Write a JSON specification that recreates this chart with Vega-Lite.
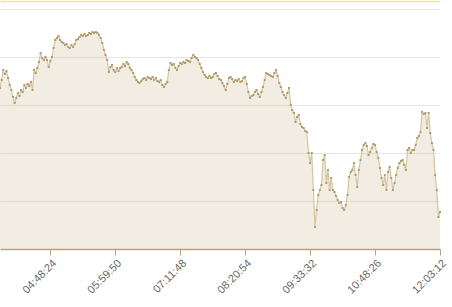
{
  "$schema": "https://vega.github.io/schema/vega-lite/v6.json",
  "width": 440,
  "height": 240,
  "autosize": {"type": "none"},
  "padding": {"top": 9, "left": 0, "right": 12, "bottom": 58},
  "config": {"view": {"stroke": null}, "font": "Liberation Sans"},
  "data": {"values": [
{"i":0,"v":161},{"i":1,"v":169},{"i":2,"v":179},{"i":3,"v":175},{"i":4,"v":178},{"i":5,"v":171},{"i":6,"v":164},{"i":7,"v":159},{"i":8,"v":152},{"i":9,"v":146},
{"i":10,"v":151},{"i":11,"v":156},{"i":12,"v":153},{"i":13,"v":159},{"i":14,"v":157},{"i":15,"v":164},{"i":16,"v":161},{"i":17,"v":165},{"i":18,"v":163},{"i":19,"v":167},
{"i":20,"v":159},{"i":21,"v":179},{"i":22,"v":176},{"i":23,"v":181},{"i":24,"v":187},{"i":25,"v":196},{"i":26,"v":191},{"i":27,"v":189},{"i":28,"v":192},{"i":29,"v":189},
{"i":30,"v":182},{"i":31,"v":188},{"i":32,"v":192},{"i":33,"v":201},{"i":34,"v":209},{"i":35,"v":211},{"i":36,"v":213},{"i":37,"v":209},{"i":38,"v":207},{"i":39,"v":206},
{"i":40,"v":204},{"i":41,"v":205},{"i":42,"v":202},{"i":43,"v":201},{"i":44,"v":204},{"i":45,"v":202},{"i":46,"v":205},{"i":47,"v":209},{"i":48,"v":210},{"i":49,"v":212},
{"i":50,"v":214},{"i":51,"v":213},{"i":52,"v":215},{"i":53,"v":213},{"i":54,"v":214},{"i":55,"v":216},{"i":56,"v":215},{"i":57,"v":217},{"i":58,"v":216},{"i":59,"v":217},
{"i":60,"v":216},{"i":61,"v":214},{"i":62,"v":211},{"i":63,"v":206},{"i":64,"v":199},{"i":65,"v":194},{"i":66,"v":189},{"i":67,"v":177},{"i":68,"v":182},{"i":69,"v":184},
{"i":70,"v":179},{"i":71,"v":177},{"i":72,"v":181},{"i":73,"v":178},{"i":74,"v":181},{"i":75,"v":182},{"i":76,"v":185},{"i":77,"v":183},{"i":78,"v":187},{"i":79,"v":185},
{"i":80,"v":181},{"i":81,"v":179},{"i":82,"v":176},{"i":83,"v":172},{"i":84,"v":169},{"i":85,"v":167},{"i":86,"v":166},{"i":87,"v":168},{"i":88,"v":170},{"i":89,"v":171},
{"i":90,"v":169},{"i":91,"v":172},{"i":92,"v":171},{"i":93,"v":170},{"i":94,"v":172},{"i":95,"v":169},{"i":96,"v":171},{"i":97,"v":168},{"i":98,"v":167},{"i":99,"v":169},
{"i":100,"v":164},{"i":101,"v":162},{"i":102,"v":165},{"i":103,"v":167},{"i":104,"v":179},{"i":105,"v":186},{"i":106,"v":184},{"i":107,"v":185},{"i":108,"v":181},{"i":109,"v":179},
{"i":110,"v":183},{"i":111,"v":186},{"i":112,"v":185},{"i":113,"v":187},{"i":114,"v":186},{"i":115,"v":189},{"i":116,"v":188},{"i":117,"v":187},{"i":118,"v":191},{"i":119,"v":194},
{"i":120,"v":192},{"i":121,"v":191},{"i":122,"v":189},{"i":123,"v":185},{"i":124,"v":181},{"i":125,"v":177},{"i":126,"v":174},{"i":127,"v":172},{"i":128,"v":171},{"i":129,"v":173},
{"i":130,"v":171},{"i":131,"v":172},{"i":132,"v":175},{"i":133,"v":176},{"i":134,"v":173},{"i":135,"v":170},{"i":136,"v":169},{"i":137,"v":166},{"i":138,"v":163},{"i":139,"v":159},
{"i":140,"v":165},{"i":141,"v":171},{"i":142,"v":172},{"i":143,"v":170},{"i":144,"v":167},{"i":145,"v":169},{"i":146,"v":168},{"i":147,"v":170},{"i":148,"v":167},{"i":149,"v":168},
{"i":150,"v":171},{"i":151,"v":172},{"i":152,"v":165},{"i":153,"v":157},{"i":154,"v":151},{"i":155,"v":153},{"i":156,"v":154},{"i":157,"v":157},{"i":158,"v":159},{"i":159,"v":155},
{"i":160,"v":152},{"i":161,"v":157},{"i":162,"v":162},{"i":163,"v":169},{"i":164,"v":176},{"i":165,"v":175},{"i":166,"v":174},{"i":167,"v":173},{"i":168,"v":172},{"i":169,"v":176},
{"i":170,"v":179},{"i":171,"v":173},{"i":172,"v":166},{"i":173,"v":162},{"i":174,"v":157},{"i":175,"v":154},{"i":176,"v":151},{"i":177,"v":156},{"i":178,"v":161},{"i":179,"v":144},
{"i":180,"v":139},{"i":181,"v":136},{"i":182,"v":127},{"i":183,"v":132},{"i":184,"v":134},{"i":185,"v":125},{"i":186,"v":122},{"i":187,"v":121},{"i":188,"v":118},{"i":189,"v":117},
{"i":190,"v":96},{"i":191,"v":86},{"i":192,"v":96},{"i":193,"v":59},{"i":194,"v":22},{"i":195,"v":39},{"i":196,"v":54},{"i":197,"v":59},{"i":198,"v":64},{"i":199,"v":89},
{"i":200,"v":94},{"i":201,"v":66},{"i":202,"v":79},{"i":203,"v":59},{"i":204,"v":71},{"i":205,"v":59},{"i":206,"v":57},{"i":207,"v":53},{"i":208,"v":49},{"i":209,"v":46},
{"i":210,"v":47},{"i":211,"v":41},{"i":212,"v":39},{"i":213,"v":44},{"i":214,"v":54},{"i":215,"v":72},{"i":216,"v":77},{"i":217,"v":79},{"i":218,"v":86},{"i":219,"v":74},
{"i":220,"v":62},{"i":221,"v":79},{"i":222,"v":89},{"i":223,"v":99},{"i":224,"v":104},{"i":225,"v":106},{"i":226,"v":103},{"i":227,"v":94},{"i":228,"v":97},{"i":229,"v":101},
{"i":230,"v":105},{"i":231,"v":104},{"i":232,"v":97},{"i":233,"v":91},{"i":234,"v":81},{"i":235,"v":71},{"i":236,"v":64},{"i":237,"v":74},{"i":238,"v":59},{"i":239,"v":77},
{"i":240,"v":82},{"i":241,"v":71},{"i":242,"v":59},{"i":243,"v":66},{"i":244,"v":74},{"i":245,"v":81},{"i":246,"v":86},{"i":247,"v":88},{"i":248,"v":89},{"i":249,"v":84},
{"i":250,"v":79},{"i":251,"v":99},{"i":252,"v":101},{"i":253,"v":96},{"i":254,"v":99},{"i":255,"v":99},{"i":256,"v":104},{"i":257,"v":111},{"i":258,"v":113},{"i":259,"v":117},
{"i":260,"v":137},{"i":261,"v":135},{"i":262,"v":136},{"i":263,"v":121},{"i":264,"v":136},{"i":265,"v":116},{"i":266,"v":106},{"i":267,"v":99},{"i":268,"v":74},{"i":269,"v":59},
{"i":270,"v":32},{"i":271,"v":37}
  ]},
  "encoding": {
    "x": {"field": "i", "type": "quantitative", "scale": {"domain": [0, 271], "nice": false, "zero": false}},
    "y": {"field": "v", "type": "quantitative", "scale": {"domain": [0, 240], "nice": false}}
  },
  "resolve": {"axis": {"x": "independent"}},
  "layer": [
    {
      "mark": {"type": "area", "color": "#c8b78e", "fillOpacity": 0.25, "line": false},
      "encoding": {
        "x": {"field": "i", "type": "quantitative", "axis": {
          "values": [31, 71, 111, 151, 191, 231, 271],
          "labelExpr": "datum.value==31?'04:48:24':datum.value==71?'05:59:50':datum.value==111?'07:11:48':datum.value==151?'08:20:54':datum.value==191?'09:33:32':datum.value==231?'10:48:26':'12:03:12'",
          "labelAngle": -45, "labelColor": "#666666", "labelFontSize": 11,
          "domainColor": "#b8a47a", "domainWidth": 1.5, "tickColor": "#b8a47a", "tickSize": 6,
          "grid": false, "title": null
        }},
        "y": {"field": "v", "type": "quantitative", "axis": {
          "values": [0, 48, 96, 144, 192, 240], "labels": false, "ticks": false, "domain": false,
          "grid": true, "gridColor": "#e6e6e6", "title": null
        }}
      }
    },
    {
      "mark": {"type": "line", "color": "#d3c5a2", "strokeWidth": 1.2},
      "encoding": {
        "x": {"field": "i", "type": "quantitative", "axis": {
          "orient": "top", "offset": 8, "labels": false, "ticks": false, "grid": false,
          "domainColor": "#f3e4a6", "domainWidth": 1.5, "title": null
        }}
      }
    },
    {
      "mark": {"type": "point", "shape": "square", "filled": true, "size": 4, "color": "#b09c6c", "opacity": 1},
      "encoding": {
        "x": {"field": "i", "type": "quantitative", "axis": null}
      }
    }
  ]
}
